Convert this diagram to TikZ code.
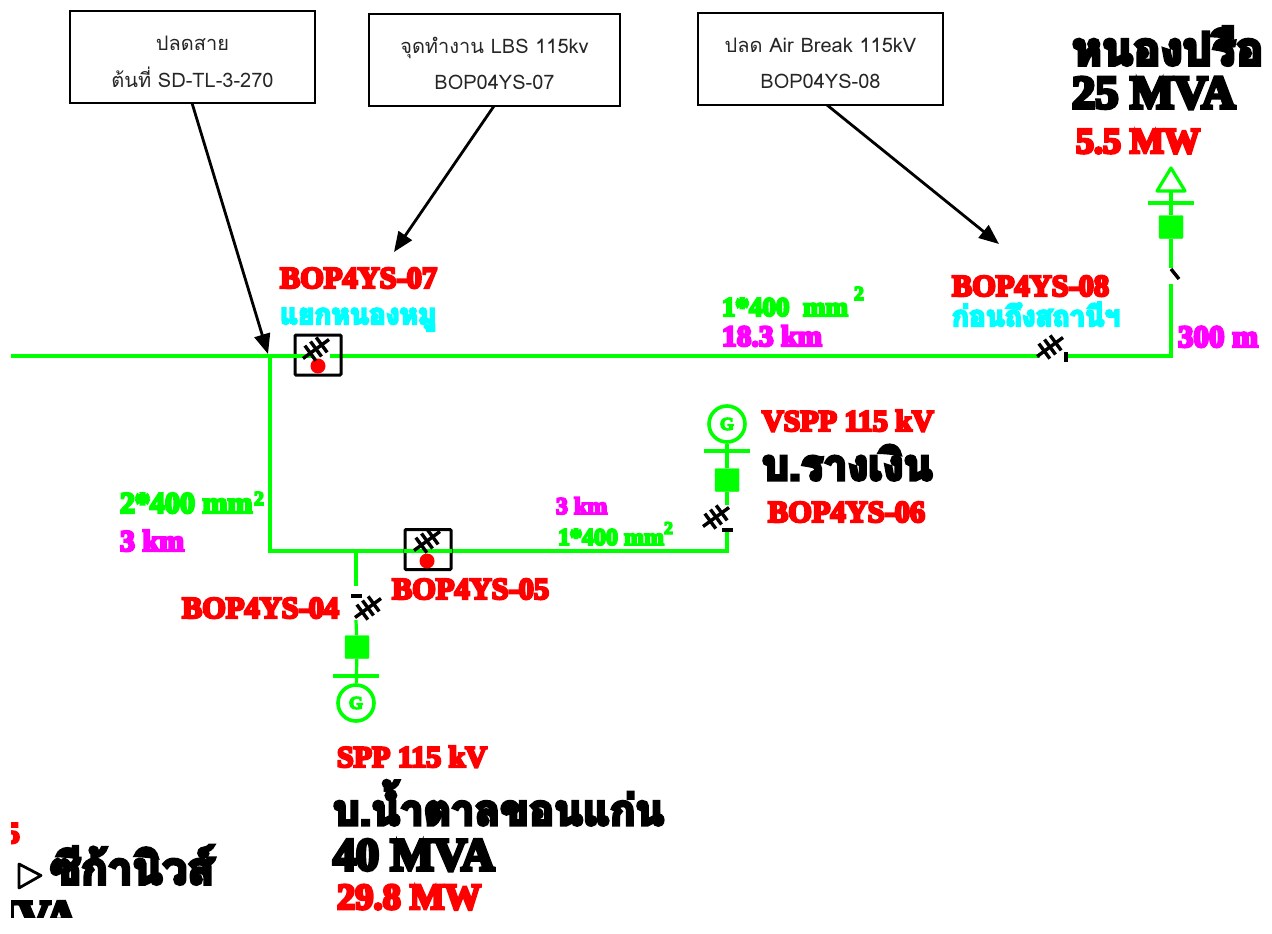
\documentclass[tikz,border=0pt]{standalone}
\usepackage{fontspec}
\usetikzlibrary{arrows.meta}
\newfontfamily\thn[Script=Thai]{Loma}
\newfontfamily\thb[Script=Thai,BoldFont={Loma Bold},BoldFeatures={FakeBold=8}]{Loma Bold}
\newfontfamily\hvbase[BoldFont={Liberation Serif Bold},BoldFeatures={FakeBold=8}]{Liberation Serif}
\newcommand{\hv}{\hvbase\bfseries}
\newcommand{\thk}{\thb\bfseries}
\definecolor{lgreen}{RGB}{0,255,0}
\definecolor{lmag}{RGB}{255,0,255}
\definecolor{lcyan}{RGB}{0,255,255}
\definecolor{lred}{RGB}{255,0,0}
\newcommand{\fs}[1]{\fontsize{#1}{#1}\selectfont}
\tikzset{
  x=1pt,y=-1pt,
  lbl/.style={anchor=base west,inner sep=0pt,outer sep=0pt},
  callout/.style={draw=black,line width=1.8pt,fill=white,inner sep=0pt,minimum width=#1,minimum height=92pt,align=center,font=\thn\fs{20},text=black!85},
  wire/.style={draw=lgreen,line width=3.2pt},
  pointer/.style={draw=black,line width=2.8pt,-{Triangle[length=20pt,width=16pt]}},
  breaker/.style={fill=lgreen,draw=lgreen,rounded corners=1pt,minimum width=24pt,minimum height=23pt,inner sep=0pt},
  gen/.style={circle,draw=lgreen,line width=3.6pt,fill=white,minimum size=36pt,inner sep=0pt,text=lgreen,font=\hv\fs{18}},
  tick/.style={draw=black,line width=3.4pt},
  swbox/.style={draw=black,line width=3pt,rounded corners=1pt,inner sep=0pt},
  pics/swx/.style={code={
    \draw[tick] (-13,9.5)--(13,-9.5);
    \foreach \t in {-7,0,7}{\draw[tick] ({\t*0.81-5.5},{-\t*0.59-7.5}) -- ({\t*0.81+5.5},{-\t*0.59+7.5});}
  }}
}
\begin{document}
\begin{tikzpicture}
\useasboundingbox (0,0) rectangle (1272,934);
\fill[white] (0,0) rectangle (1272,934);
% named points
\coordinate (w0) at (11,356);
\coordinate (j1) at (270,356);
\coordinate (b1l) at (312,356);
\coordinate (b1r) at (330,356);
\coordinate (s8l) at (1040,356);
\coordinate (s8r) at (1068,356);
\coordinate (c1) at (1171,356);
\coordinate (t1) at (1171,284);
\coordinate (t2) at (1171,268);
\coordinate (j2) at (270,551);
\coordinate (j3) at (356,551);
\coordinate (c2) at (727,551);
\coordinate (w6) at (727,528);
\coordinate (w6b) at (727,505);
\coordinate (w4) at (356,586);
\coordinate (w4b) at (356,620);
\coordinate (a1) at (268,354);
\coordinate (a2) at (394,252);
\coordinate (a3) at (999,244);
% symbols
\node[breaker] (br1) at (1171,227) {};
\node[breaker] (br6) at (727,480) {};
\node[breaker] (br4) at (357,647) {};
\node[gen] (g6) at (727,424) {G};
\node[gen] (g4) at (356,703) {G};
\coordinate (bar1) at (1171,203);
\coordinate (bar6) at (727,451);
\coordinate (bar4) at (356,676);
% wires
\draw[wire] (w0) -- (b1l);
\draw[wire] (b1r) -- (s8l);
\draw[wire,line join=miter] (s8r) -- (c1) -- (t1);
\draw[wire,line join=miter] (j1) -- (j2) -- (c2) -- (w6);
\draw[wire] (j3) -- (w4);
\draw[wire] (w4b) -- (br4);
\draw[wire] (br4) -- (g4);
\draw[wire] (w6b) -- (br6);
\draw[wire] (br6) -- (g6);
\draw[wire] (t2) -- (br1);
\draw[wire] (br1) -- (1171,190);
\draw[wire,line join=round] (1171,168) -- (1185,191) -- (1157,191) -- cycle;
\draw[wire] ([xshift=-23pt]bar1) -- ([xshift=23pt]bar1);
\draw[wire] ([xshift=-23pt]bar6) -- ([xshift=23pt]bar6);
\draw[wire] ([xshift=-23pt]bar4) -- ([xshift=23pt]bar4);
% switch boxes
\node[swbox,minimum width=46pt,minimum height=40pt] (box1) at (318,355) {};
\node[swbox,minimum width=46pt,minimum height=40pt] (box2) at (428,549.5) {};
\draw[wire] (w0) -- (b1l);
\draw[wire] (404,551) -- (452,551);
\fill[lred] (318,366) circle (7.5);
\fill[lred] (427,561) circle (7.5);
\pic at (316,349) {swx};
\pic at (427,541) {swx};
\pic at (1050,347) {swx};
\pic at (716,517) {swx};
\pic at (368,608) {swx};
\draw[tick] (1066,352) -- (1066,362);
\draw[tick] (722,530) -- (733,530);
\draw[tick] (351,596) -- (362,596);
\draw[tick] (1171,269) -- (1179,279);
% callouts
\node[callout=245pt] (ca) at (192.5,57) {\rule{0pt}{24pt}ปลดสาย\\[16pt]ต้นที่ SD-TL-3-270};
\node[callout=251pt] (cb) at (494.5,60) {\rule{0pt}{24pt}จุดทำงาน LBS 115kv\\[16pt]BOP04YS-07};
\node[callout=245pt] (cc) at (820.5,59) {\rule{0pt}{24pt}ปลด Air Break 115kV\\[16pt]BOP04YS-08};
\draw[pointer] (192,103) -- (a1);
\draw[pointer] (494,106) -- (a2);
\draw[pointer] (827,105) -- (a3);
% labels
\node[lbl,text=lred,font=\hv\fs{30.4}] (l07) at (280,288) {BOP4YS-07};
\node[lbl,text=lcyan,font=\thk\fs{28}] (l07t) at (280,324) {แยกหนองหมู};
\node[lbl,text=lred,font=\hv\fs{30.4}] (l08) at (952,296) {BOP4YS-08};
\node[lbl,text=lcyan,font=\thk\fs{28}] (l08t) at (952,326) {ก่อนถึงสถานีฯ};
\node[lbl,text=lgreen,font=\hv\fs{27}] (l14a) at (722,316) {1*400~~mm};
\node[lbl,text=lgreen,font=\hv\fs{20}] (l14as) at (854,300) {2};
\node[lbl,text=lmag,font=\hv\fs{29.5}] (l18) at (722,346) {18.3 km};
\node[lbl,text=lmag,font=\hv\fs{31}] (l300) at (1178,347) {300 m};
\node[lbl,text=lred,font=\hv\fs{30}] (lv) at (762,431) {VSPP 115 kV};
\node[lbl,text=black,font=\thk\fs{42.5}] (lr) at (762,480) {บ.รางเงิน};
\node[lbl,text=lred,font=\hv\fs{30.4}] (l06) at (768,522) {BOP4YS-06};
\node[lbl,text=lmag,font=\hv\fs{24}] (l3a) at (556,514) {3 km};
\node[lbl,text=lgreen,font=\hv\fs{24}] (l14b) at (558,545) {1*400 mm};
\node[lbl,text=lgreen,font=\hv\fs{18}] (l14bs) at (664,534) {2};
\node[lbl,text=lred,font=\hv\fs{30.4}] (l05) at (392,599) {BOP4YS-05};
\node[lbl,text=lred,font=\hv\fs{30.4}] (l04) at (182,618) {BOP4YS-04};
\node[lbl,text=lgreen,font=\hv\fs{30}] (l24) at (120,513) {2*400 mm};
\node[lbl,text=lgreen,font=\hv\fs{20}] (l24s) at (254,505) {2};
\node[lbl,text=lmag,font=\hv\fs{30}] (l3b) at (120,551) {3 km};
\node[lbl,text=lred,font=\hv\fs{30}] (ls) at (337,767) {SPP 115 kV};
\node[lbl,text=black,font=\thk\fs{42}] (ln) at (333,825) {บ.น้ำตาลขอนแก่น};
\node[lbl,text=black,font=\hv\fs{46}] (l40) at (333,870) {40 MVA};
\node[lbl,text=lred,font=\hv\fs{36.5}] (l29) at (337,909) {29.8 MW};
\node[lbl,text=black,font=\thk\fs{45.5}] (lh) at (1072,65) {หนองปรือ};
\node[lbl,text=black,font=\hv\fs{46.5}] (l25) at (1072,108) {25 MVA};
\node[lbl,text=lred,font=\hv\fs{36}] (l55) at (1076,153) {5.5 MW};
% clipped corner
\begin{scope}
\clip (11,0) rectangle (1272,917);
\node[anchor=base east,inner sep=0pt,text=lred,font=\hv\fs{30}] (l5) at (20,843) {5};
\node[anchor=base east,inner sep=0pt,text=black,font=\hv\fs{46}] (lmva) at (78,932) {MVA};
\end{scope}
\draw[draw=black,line width=2.8pt,line join=round] (19,864) -- (41,875.5) -- (19,888) -- cycle;
\node[lbl,text=black,font=\thk\fs{44}] (lc) at (50,884) {ซีก้านิวส์};
\end{tikzpicture}
\end{document}
